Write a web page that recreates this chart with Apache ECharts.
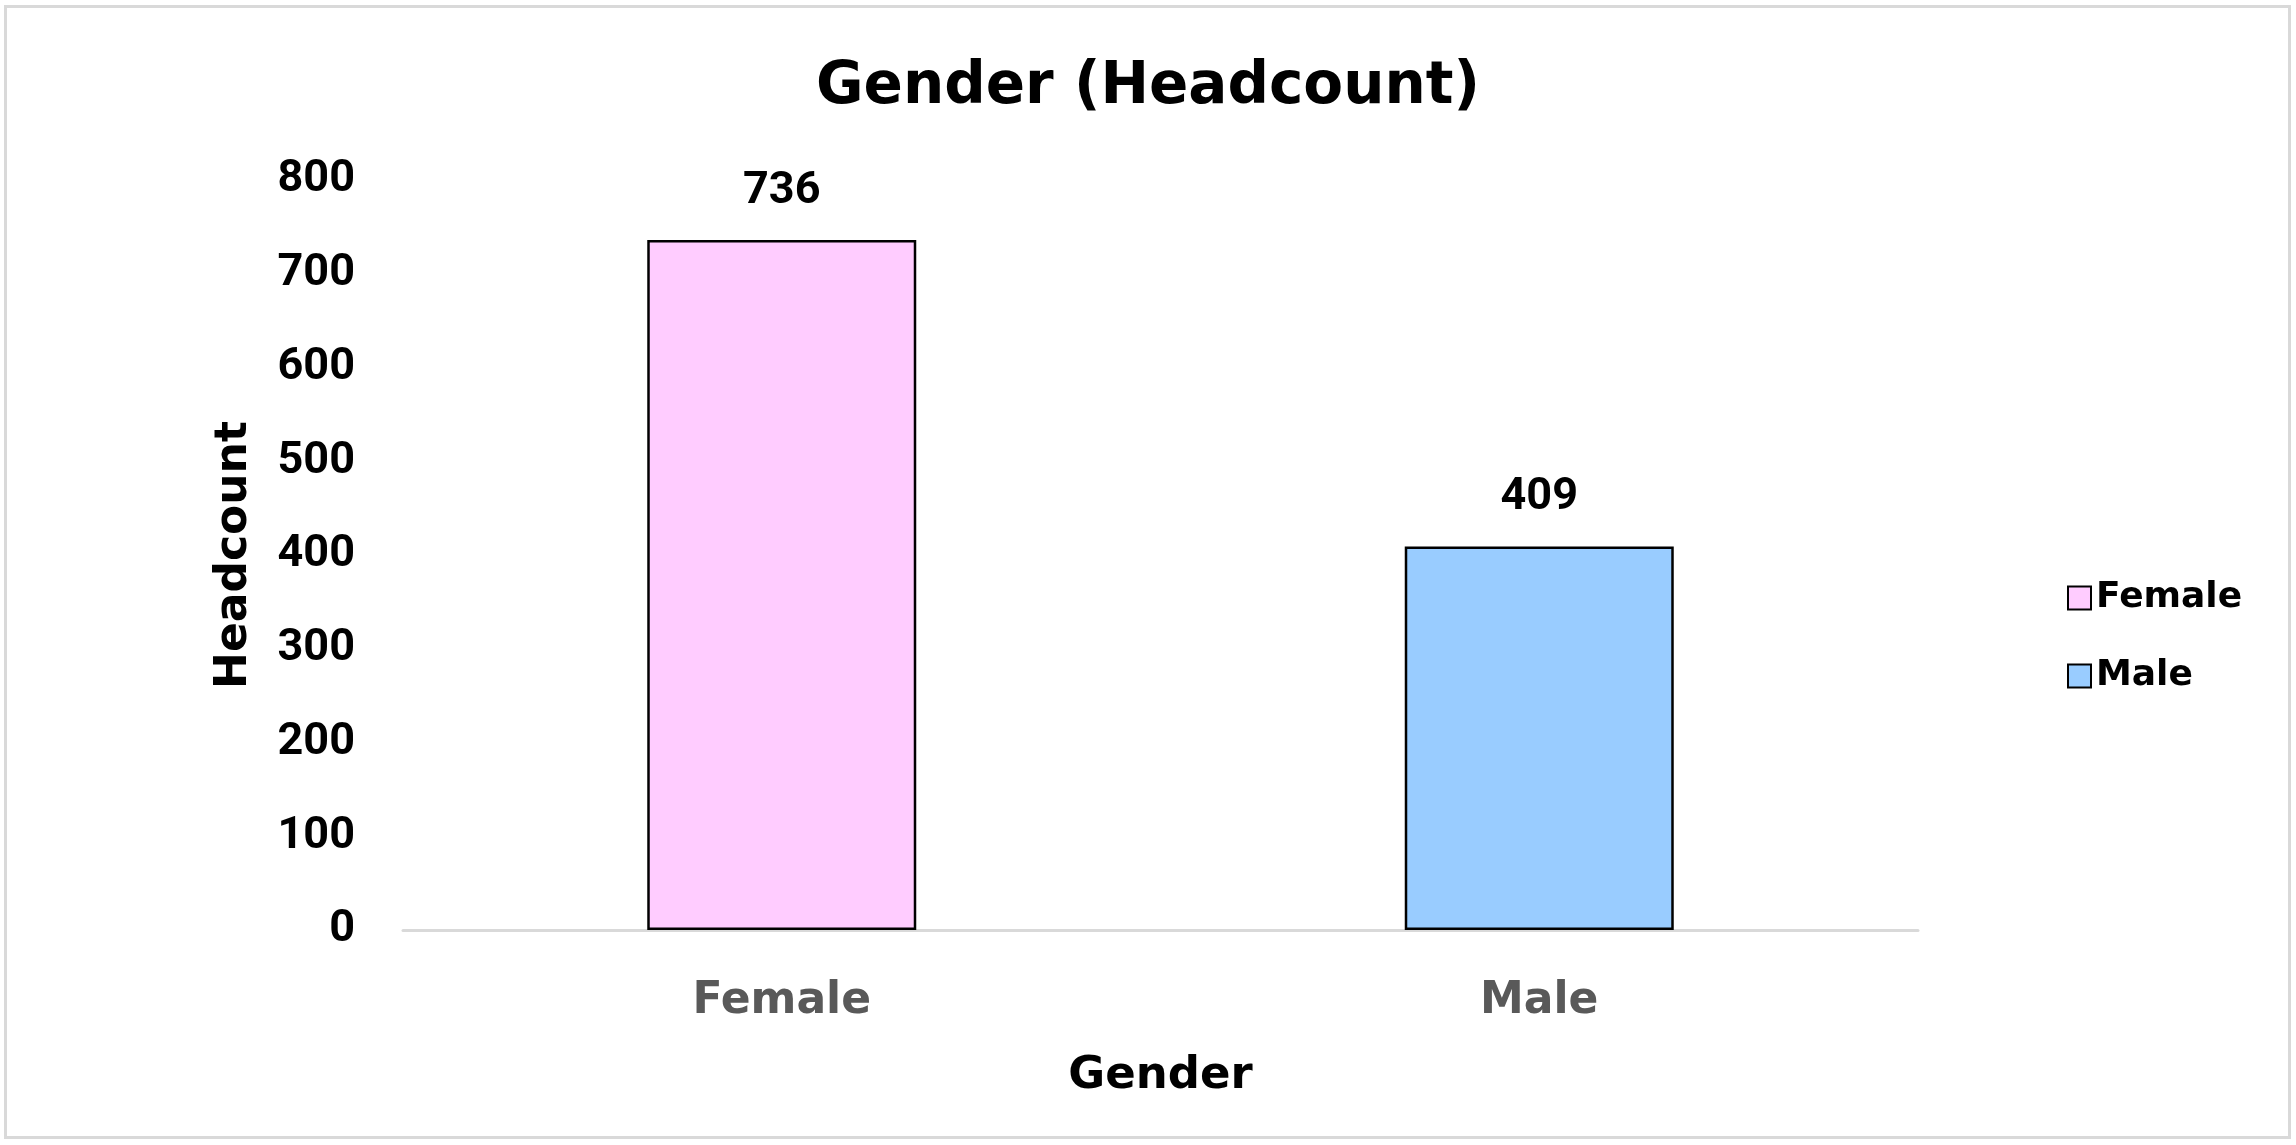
<!DOCTYPE html>
<html>
<head>
<meta charset="utf-8">
<title>Gender (Headcount)</title>
<script src="https://cdn.jsdelivr.net/npm/echarts@6/dist/echarts.min.js"></script>
<style>
  html, body { margin: 0; padding: 0; background: #fff; }
  #wrap { position: relative; width: 2296px; height: 1145px; }
  #chart { position: absolute; left: 0; top: 0; width: 2296px; height: 1145px; }
  #frame { position: absolute; left: 4px; top: 5px; width: 2281px; height: 1128px;
           border: 3px solid #d9d9d9; pointer-events: none; }
</style>
</head>
<body>
<div id="wrap">
  <div id="chart"></div>
  <div id="frame"></div>
</div>
<script>
// 数据
var categories = ["Female", "Male"];
var femaleValues = [736, "-"];
var maleValues = ["-", 409];
var yTicks = { min: 0, max: 800, interval: 100 };

var wordFont = "DejaVu Sans";
var numFont = "Roboto";

var chart = echarts.init(document.getElementById("chart"));

var barLabel = {
  show: true,
  position: "top",
  distance: 26,
  color: "#000",
  fontFamily: numFont,
  fontWeight: "bold",
  fontSize: 45
};

var option = {
  animation: false,
  title: {
    text: "Gender (Headcount)",
    left: "center",
    top: 54,
    textStyle: { fontFamily: wordFont, fontWeight: "bold", fontSize: 58, color: "#000" }
  },
  legend: {
    orient: "vertical",
    left: 2062,
    top: 575,
    itemWidth: 23,
    itemHeight: 23,
    itemGap: 42,
    icon: "rect",
    itemStyle: { borderColor: "#000", borderWidth: 2 },
    textStyle: { fontFamily: wordFont, fontWeight: "bold", fontSize: 36, color: "#000" },
    data: ["Female", "Male"]
  },
  grid: { left: 403, right: 378, top: 180, bottom: 215 },
  xAxis: {
    type: "category",
    data: categories,
    name: "Gender",
    nameLocation: "middle",
    nameGap: 124,
    nameTextStyle: { fontFamily: wordFont, fontWeight: "bold", fontSize: 45, color: "#000" },
    axisLine: { lineStyle: { color: "#d9d9d9", width: 3 } },
    axisTick: { show: false },
    axisLabel: { margin: 50, fontFamily: wordFont, fontWeight: "bold", fontSize: 44, color: "#595959" }
  },
  yAxis: {
    type: "value",
    min: yTicks.min,
    max: yTicks.max,
    interval: yTicks.interval,
    name: "Headcount",
    nameLocation: "middle",
    nameGap: 146,
    nameTextStyle: { fontFamily: wordFont, fontWeight: "bold", fontSize: 44, color: "#000" },
    axisLine: { show: false },
    axisTick: { show: false },
    splitLine: { show: false },
    axisLabel: { margin: 48, fontFamily: numFont, fontWeight: "bold", fontSize: 45, color: "#000" }
  },
  series: [
    {
      name: "Female",
      type: "bar",
      barWidth: 269,
      barGap: "-100%",
      data: femaleValues,
      itemStyle: { color: "#ffccff", borderColor: "#000", borderWidth: 2.5 },
      label: barLabel
    },
    {
      name: "Male",
      type: "bar",
      barWidth: 269,
      barGap: "-100%",
      data: maleValues,
      itemStyle: { color: "#99ccff", borderColor: "#000", borderWidth: 2.5 },
      label: barLabel
    }
  ]
};

chart.setOption(option);
</script>
</body>
</html>
